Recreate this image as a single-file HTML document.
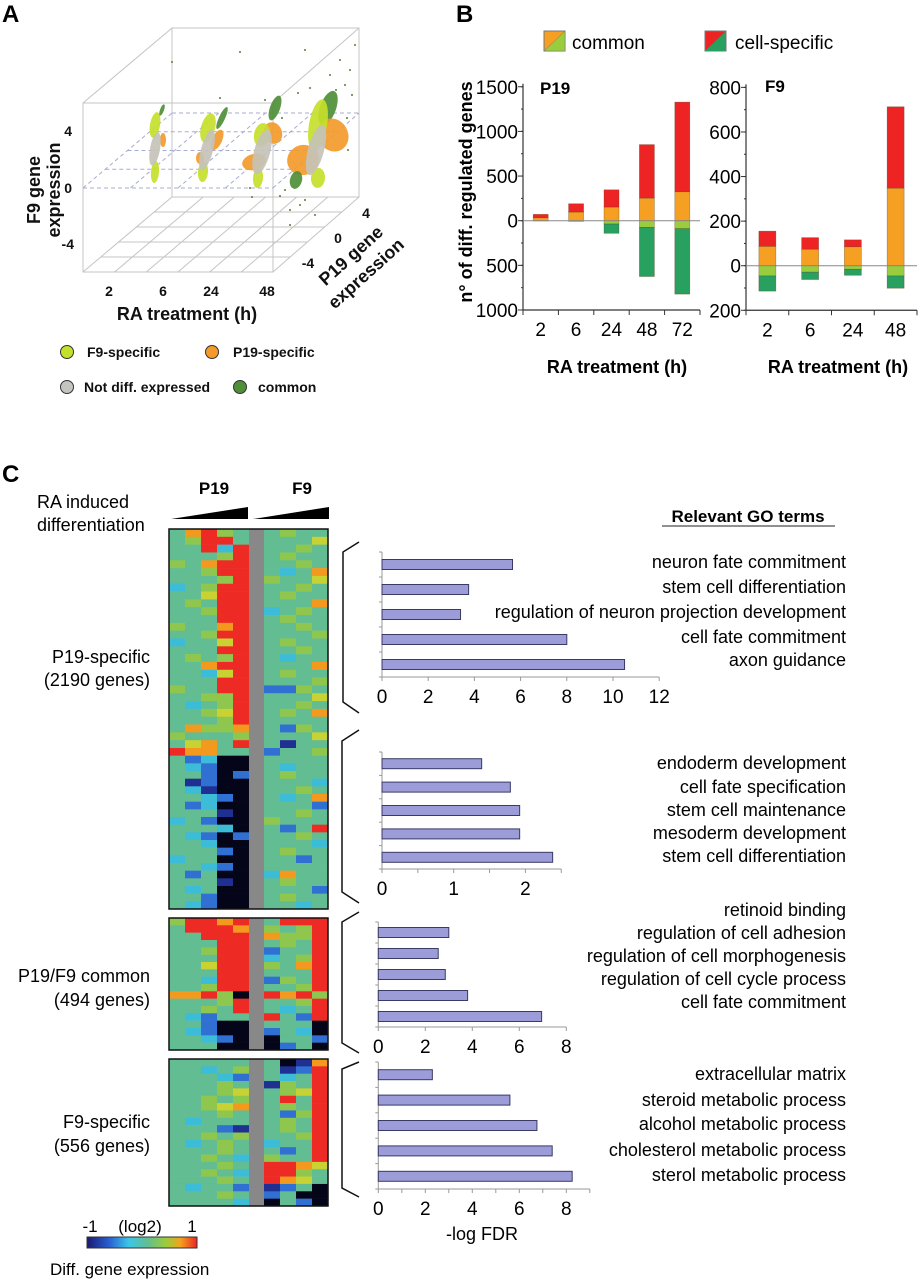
<!DOCTYPE html>
<html><head><meta charset="utf-8">
<style>
html,body{margin:0;padding:0;background:#fff;}
svg{display:block;font-family:"Liberation Sans",Arial,sans-serif;}
</style></head>
<body>
<svg id="fig" width="919" height="1280" viewBox="0 0 919 1280" xmlns="http://www.w3.org/2000/svg">
<text x="2" y="22" font-size="24" font-weight="bold">A</text>
<text x="456" y="22" font-size="24" font-weight="bold">B</text>
<text x="2" y="482" font-size="24" font-weight="bold">C</text>

<g id="panelA" stroke="#c4c4c4" stroke-width="1" fill="none">
  <rect x="83" y="103" width="190" height="169"/>
  <rect x="172" y="28" width="187" height="169"/>
  <line x1="83" y1="103" x2="172" y2="28"/><line x1="273" y1="103" x2="359" y2="28"/>
  <line x1="83" y1="272" x2="172" y2="197"/><line x1="273" y1="272" x2="359" y2="197"/>
  <g id="floorGrid"></g>
  <g id="planeGrid" stroke="#a8acd0" stroke-dasharray="4,3"></g>
</g>
<g id="clouds"></g>
<g font-size="14" font-weight="bold" fill="#111">
  <text x="72" y="136" text-anchor="end">4</text>
  <text x="72" y="193" text-anchor="end">0</text>
  <text x="74" y="249" text-anchor="end">-4</text>
  <text x="109" y="296" text-anchor="middle">2</text>
  <text x="163" y="296" text-anchor="middle">6</text>
  <text x="211" y="296" text-anchor="middle">24</text>
  <text x="267" y="296" text-anchor="middle">48</text>
  <text x="366" y="218" text-anchor="middle">4</text>
  <text x="338" y="243" text-anchor="middle">0</text>
  <text x="308" y="268" text-anchor="middle">-4</text>
</g>
<g font-size="18" font-weight="bold" fill="#111">
  <text transform="translate(40,190) rotate(-90)" text-anchor="middle">F9 gene</text>
  <text transform="translate(60,190) rotate(-90)" text-anchor="middle">expression</text>
  <text x="187" y="320" text-anchor="middle">RA treatment (h)</text>
  <text transform="translate(355,260) rotate(-42)" text-anchor="middle">P19 gene</text>
  <text transform="translate(370,278) rotate(-42)" text-anchor="middle">expression</text>
</g>
<g font-size="14" font-weight="bold" fill="#111" stroke-width="1">
  <circle cx="67" cy="352" r="6.5" fill="#c5e02a" stroke="#333"/>
  <text x="87" y="357">F9-specific</text>
  <circle cx="212" cy="352" r="6.5" fill="#f39a2a" stroke="#333"/>
  <text x="233" y="357">P19-specific</text>
  <circle cx="67" cy="387" r="6.5" fill="#c4c4c0" stroke="#333"/>
  <text x="84" y="392">Not diff. expressed</text>
  <circle cx="240" cy="387" r="6.5" fill="#4f8f3a" stroke="#333"/>
  <text x="258" y="392">common</text>
</g>

<g>
  <rect x="544" y="31" width="21" height="20" fill="#f6a023" stroke="#777"/>
  <polygon points="544,51 565,51 565,31" fill="#9acd3e" stroke="#777" stroke-width="0.5"/>
  <text x="572" y="49" font-size="19">common</text>
  <rect x="705" y="31" width="21" height="20" fill="#ee2424" stroke="#777"/>
  <polygon points="705,51 726,51 726,31" fill="#27a060"/>
  <text x="735" y="49" font-size="19">cell-specific</text>
</g>
<text transform="translate(472,192) rotate(-90)" text-anchor="middle" font-size="18" font-weight="bold">n° of diff. regulated genes</text>
<text x="540" y="94" font-size="17" font-weight="bold">P19</text>
<text x="765" y="92" font-size="17" font-weight="bold">F9</text>
<text x="617" y="373" text-anchor="middle" font-size="18" font-weight="bold">RA treatment (h)</text>
<text x="838" y="373" text-anchor="middle" font-size="18" font-weight="bold">RA treatment (h)</text>
<g id="p19chart"></g>
<g id="f9chart"></g>

<text x="37" y="508" font-size="18">RA induced</text>
<text x="37" y="531" font-size="18">differentiation</text>
<text x="214" y="494" text-anchor="middle" font-size="17" font-weight="bold">P19</text>
<text x="302" y="494" text-anchor="middle" font-size="17" font-weight="bold">F9</text>
<polygon points="171,519 248,507 248,519" fill="#000"/>
<polygon points="253,519 329,507 329,519" fill="#000"/>
<g font-size="18" text-anchor="end">
  <text x="150" y="663">P19-specific</text>
  <text x="150" y="686">(2190 genes)</text>
  <text x="150" y="982">P19/F9 common</text>
  <text x="150" y="1006">(494 genes)</text>
  <text x="150" y="1128">F9-specific</text>
  <text x="150" y="1152">(556 genes)</text>
</g>
<g id="heatmap"></g>
<defs>
  <linearGradient id="cbar" x1="0" x2="1" y1="0" y2="0">
    <stop offset="0" stop-color="#1a1a70"/><stop offset="0.2" stop-color="#2a5fd0"/>
    <stop offset="0.38" stop-color="#3cc6e6"/><stop offset="0.55" stop-color="#62bd93"/>
    <stop offset="0.72" stop-color="#9ccc3a"/><stop offset="0.85" stop-color="#f3a21e"/>
    <stop offset="1" stop-color="#ee2424"/>
  </linearGradient>
</defs>
<rect x="87" y="1237" width="110" height="11" fill="url(#cbar)" stroke="#333"/>
<g font-size="17">
  <text x="90" y="1232" text-anchor="middle">-1</text>
  <text x="140" y="1232" text-anchor="middle">(log2)</text>
  <text x="192" y="1232" text-anchor="middle">1</text>
  <text x="50" y="1275">Diff. gene expression</text>
</g>
<g stroke="#111" stroke-width="1.5" fill="none">
  <polyline points="359,542 343,552 343,702 359,713"/>
  <polyline points="359,730 342,741 342,892 359,903"/>
  <polyline points="359,912 342,922 342,1043 359,1053"/>
  <polyline points="359,1062 342,1069 342,1188 359,1197"/>
</g>
<text x="748" y="522" text-anchor="middle" font-size="17" font-weight="bold">Relevant GO terms</text>
<line x1="662" y1="526" x2="835" y2="526" stroke="#222" stroke-width="1"/>
<g id="gocharts"></g>
<text x="482" y="1240" text-anchor="middle" font-size="18">-log FDR</text>
</svg>
<script>
var NS="http://www.w3.org/2000/svg";
function mk(p,tag,at){var e=document.createElementNS(NS,tag);for(var k in at)e.setAttribute(k,at[k]);p.appendChild(e);return e;}

var p19Times=["2","6","24","48","72"];
var p19CommonUp=[33,97,153,253,324];
var p19SpecificUp=[38,93,193,599,1004];
var p19CommonDown=[3,8,37,74,89];
var p19SpecificDown=[0,0,104,551,733];
var p19TickValues=[1500,1000,500,0,-500,-1000];
var p19TickLabels=["1500","1000","500","0","500","1000"];

var f9Times=["2","6","24","48"];
var f9CommonUp=[87,74,85,348];
var f9SpecificUp=[68,52,31,365];
var f9CommonDown=[46,29,16,46];
var f9SpecificDown=[68,33,27,55];
var f9TickValues=[800,600,400,200,0,-200];
var f9TickLabels=["800","600","400","200","0","200"];

function stackChart(g,o){
  var n=o.times.length, bw=(o.x1-o.x0)/n;
  function y(v){return o.y0-v*o.k;}
  var yb=y(o.min), yt=y(o.max);
  mk(g,"line",{x1:o.x0,y1:yt-3,x2:o.x0,y2:yb,stroke:"#333","stroke-width":1.2});
  mk(g,"line",{x1:o.x0,y1:yb,x2:o.x1,y2:yb,stroke:"#333","stroke-width":1.2});
  for(var t=0;t<o.tickVals.length;t++){
    var ty=y(o.tickVals[t]);
    mk(g,"line",{x1:o.x0-5,y1:ty,x2:o.x0,y2:ty,stroke:"#333"});
    var tx=mk(g,"text",{x:o.x0-5,y:ty+7,"text-anchor":"end","font-size":19});
    tx.textContent=o.tickLabels[t];
    
    
  }
  for(var m=o.min;m<=o.max;m+=o.minor){mk(g,"line",{x1:o.x0-2,y1:y(m),x2:o.x0,y2:y(m),stroke:"#333"});}
  for(var i=0;i<=n;i++){mk(g,"line",{x1:o.x0+bw*i,y1:yb,x2:o.x0+bw*i,y2:yb+5,stroke:"#333"});}
  for(i=0;i<n;i++){
    var cx=o.x0+bw*(i+0.5), w=o.barW;
    var cu=o.cu[i], su=o.su[i], cd=o.cd[i], sd=o.sd[i];
    var segs=[[0,cu,"#f6a023","common-up"],[cu,cu+su,"#ee2424","specific-up"],[-cd,0,"#9acd3e","common-down"],[-(cd+sd),-cd,"#27a060","specific-down"]];
    for(var s=0;s<4;s++){
      var a=segs[s]; if(a[1]-a[0]<=0)continue;
      var r=mk(g,"rect",{x:cx-w/2,y:y(a[1]),width:w,height:(a[1]-a[0])*o.k,fill:a[2],stroke:"rgba(90,60,30,0.5)","stroke-width":0.6});
      
      
    }
    var lb=mk(g,"text",{x:cx,y:yb+26,"text-anchor":"middle","font-size":19});
    lb.textContent=o.times[i];
    
    
  }
  mk(g,"line",{x1:o.x0,y1:o.y0,x2:o.x1,y2:o.y0,stroke:"#888","stroke-width":1});
}
stackChart(document.getElementById("p19chart"),{times:p19Times,cu:p19CommonUp,su:p19SpecificUp,cd:p19CommonDown,sd:p19SpecificDown,
  x0:523,x1:700,y0:220.7,k:0.0893,min:-1000,max:1500,minor:250,barW:15,tickVals:p19TickValues,tickLabels:p19TickLabels});
stackChart(document.getElementById("f9chart"),{times:f9Times,cu:f9CommonUp,su:f9SpecificUp,cd:f9CommonDown,sd:f9SpecificDown,
  x0:746,x1:917,y0:265.7,k:0.2229,min:-200,max:800,minor:100,barW:17,tickVals:f9TickValues,tickLabels:f9TickLabels});

var go1Terms=["neuron fate commitment","stem cell differentiation","regulation of neuron projection development","cell fate commitment","axon guidance"];
var go1Values=[5.65,3.75,3.4,8.0,10.5];
var go1Ticks=[0,2,4,6,8,10,12];
var go2Terms=["endoderm development","cell fate specification","stem cell maintenance","mesoderm development","stem cell differentiation"];
var go2Values=[1.39,1.79,1.92,1.92,2.38];
var go2Ticks=[0,1,2];
var go3Terms=["retinoid binding","regulation of cell adhesion","regulation of cell morphogenesis","regulation of cell cycle process","cell fate commitment"];
var go3Values=[3.0,2.55,2.85,3.8,6.95];
var go3Ticks=[0,2,4,6,8];
var go4Terms=["extracellular matrix","steroid metabolic process","alcohol metabolic process","cholesterol metabolic process","sterol metabolic process"];
var go4Values=[2.3,5.6,6.75,7.4,8.25];
var go4Ticks=[0,2,4,6,8];

function goChart(g,o){
  function x(v){return o.x0+v*o.k;}
  var n=o.vals.length, step=(o.yAxis-o.yTop)/n;
  mk(g,"line",{x1:o.x0,y1:o.yTop,x2:o.x0,y2:o.yAxis,stroke:"#999"});
  mk(g,"line",{x1:o.x0,y1:o.yAxis,x2:x(o.max),y2:o.yAxis,stroke:"#999"});
  for(var i=0;i<=n;i++)mk(g,"line",{x1:o.x0-3,y1:o.yTop+step*i,x2:o.x0,y2:o.yTop+step*i,stroke:"#999"});
  for(var v=0;v<=o.max+1e-9;v+=o.minor)mk(g,"line",{x1:x(v),y1:o.yAxis,x2:x(v),y2:o.yAxis+4,stroke:"#999"});
  for(var t=0;t<o.ticks.length;t++){
    var tl=mk(g,"text",{x:x(o.ticks[t]),y:o.yAxis+26,"text-anchor":"middle","font-size":19});
    tl.textContent=String(o.ticks[t]);
    
    
  }
  for(i=0;i<n;i++){
    var cy=o.yTop+step*(i+0.5);
    var r=mk(g,"rect",{x:o.x0,y:cy-5,width:o.vals[i]*o.k,height:10,fill:"#9c9cd8",stroke:"#3a3a66","stroke-width":1});
    
    
    var tt=mk(g,"text",{x:846,y:o.textY[i]+6,"text-anchor":"end","font-size":18});
    tt.textContent=o.terms[i];
    
    
  }
}
var G=document.getElementById("gocharts");
goChart(G,{terms:go1Terms,vals:go1Values,ticks:go1Ticks,x0:382,k:23.1,max:12,minor:2,yTop:552,yAxis:677,textY:[562,587,612,637,660]});
goChart(G,{terms:go2Terms,vals:go2Values,ticks:go2Ticks,x0:382,k:71.7,max:2.5,minor:0.5,yTop:752,yAxis:869,textY:[763,787,810,833,856]});
goChart(G,{terms:go3Terms,vals:go3Values,ticks:go3Ticks,x0:378.3,k:23.5,max:8,minor:2,yTop:922,yAxis:1027,textY:[910,933,956,979,1002]});
goChart(G,{terms:go4Terms,vals:go4Values,ticks:go4Ticks,x0:378.3,k:23.5,max:9,minor:1,yTop:1062,yAxis:1189,textY:[1074,1100,1124,1150,1175]});

var heatColors={K:"#05051a",B:"#1f2f92",b:"#2f70d2",c:"#3dbcd8",t:"#62bd93",g:"#8fc64e",y:"#c8d233",o:"#f39a1e",R:"#ee2a24"};
var block1Up=["toRgttgtt","tgRRtttty","ttRcRttgt","tttgRtgtt","gtoRRttgt","ttgRRtcto","tttgRgtty","ctgRRttgt","ttyRRtgtt","tgtRRttto","ttgRRctgt","tttRRtgtt","gttoRttgt","ttgRRtttg","cttyRtgtt","tttRRttgt","tgtgRtctt","ttoRRttto","ttcyRtgtt","tttRRtttg","gttRRbbgt","ttggRttty","tctgRttgt","ttgyRtgto","tttgRtttt","toggotbgt","gtttgttty","tyotRtBtt"];
var block1Down=["Roottbttg","tbcKKtttt","tcbKKtctt","ttbKbtgtt","tBbKKtttc","tcBKKttgt","ttcbKtcto","tbcKKtttb","tttBKttgt","ctbKKgttt","tttcKtbtR","tcbKbttgt","ttcKKtttc","tttbKtgtt","cttKKttbt","ttcbKtttt","tbtKKcott","tttBKtgtt","tctKKtttb","ttbKKtgtt","tcbKKttct"];
var block2=["gRRoRtRRR","tRRRogtgR","ttRRRoggR","tttRRtgtR","ttgRRbttR","tttRRctgR","ttyRRgtoR","tttRRtttR","ttcRRbgtR","ttgRRttgR","ooRgKRoRg","tttgRttgR","ttgtRtctR","tcbttRtbR","ttbKKtttK","tcbKKbtcK","ttcbKKttb","tttKKKbtK"];
var block3=["ttttttKBo","ttctgtBbR","tttcbtctR","tttgtBgtR","tttgytgyR","ttgtgtRtR","ttgyotgtR","tttgttbgR","tcttttgtR","tttbBtgtR","ttgtgttgR","tctgtcttR","tttgttbtR","ttgtcgttR","tttgtRRoy","ttgtcRRgt","tttgtRoyt","tcttbBbtK","tttgtbtKK","ttttcKtbK"];

var H=document.getElementById("heatmap");
var colX=[169,185,201,217,233,264,280,296,312], colW=16;
function drawRows(rows,y0,y1){
  var h=(y1-y0)/rows.length;
  for(var r=0;r<rows.length;r++){
    for(var c=0;c<9;c++){
      var cell=mk(H,"rect",{x:colX[c],y:(y0+r*h).toFixed(2),width:colW+0.3,height:(h+0.3).toFixed(2),fill:heatColors[rows[r][c]]});
      
      
    }
  }
}
function blockFrame(y0,y1,name){
  var g=mk(H,"rect",{x:249,y:y0,width:15,height:y1-y0,fill:"#888"});
  
  
  var f=mk(H,"rect",{x:169,y:y0,width:159,height:y1-y0,fill:"none",stroke:"#111","stroke-width":1.5});
  
  
}
drawRows(block1Up,529,748);
drawRows(block1Down,748,909);
blockFrame(529,909,'heatmap-block-p19-specific');
drawRows(block2,918,1050);
blockFrame(918,1050,'heatmap-block-common');
drawRows(block3,1059,1206);
blockFrame(1059,1206,'heatmap-block-f9-specific');

var FG=document.getElementById("floorGrid");
for(var i=1;i<5;i++){var f=i/5;mk(FG,"line",{x1:83+89*f,y1:272-75*f,x2:273+86*f,y2:272-75*f});}
for(i=1;i<6;i++){var fx=i/6;mk(FG,"line",{x1:83+190*fx,y1:272,x2:172+187*fx,y2:197});}
var PG=document.getElementById("planeGrid");
for(i=0;i<5;i++){var f2=i/4;mk(PG,"line",{x1:83+89*f2,y1:188-75*f2,x2:273+86*f2,y2:188-75*f2});}
for(i=0;i<=4;i++){var fx2=i/4;mk(PG,"line",{x1:83+190*fx2,y1:188,x2:172+187*fx2,y2:113});}

/* Point clouds: [cx, cy, rx, ry, rotation, colour key] per time-point cluster */
var CL=document.getElementById("clouds");
var cols={lime:"#c5e02a",orange:"#f39a2a",gray:"#c4c2b8",dg:"#4f8f3a"};
var cloudShapes=[
 [163,140,3,7,0,"orange"],[155,125,5,13,10,"lime"],[155,172,4,11,5,"lime"],[155,149,5,17,10,"gray"],[162,110,2,6,20,"dg"],
 [222,118,3,12,25,"dg"],[217,140,5,11,25,"orange"],[200,158,4,6,0,"orange"],[208,128,7,15,15,"lime"],[203,172,5,10,5,"lime"],[207,150,6,21,15,"gray"],
 [275,108,5,13,20,"dg"],[273,133,9,11,-20,"orange"],[254,162,12,8,-15,"orange"],[262,135,8,12,10,"lime"],[258,178,5,10,5,"lime"],[262,152,8,23,15,"gray"],
 [328,108,8,18,20,"dg"],[333,135,15,17,-30,"orange"],[303,160,16,15,-20,"orange"],[318,125,9,26,10,"lime"],[318,178,7,10,5,"lime"],[296,180,6,9,15,"dg"],[316,150,8,26,15,"gray"]
];
for(i=0;i<cloudShapes.length;i++){
  var c=cloudShapes[i];
  var e=mk(CL,"ellipse",{cx:c[0],cy:c[1],rx:c[2],ry:c[3],fill:cols[c[5]],opacity:0.92,transform:"rotate("+c[4]+" "+c[0]+" "+c[1]+")"});
  
  
}
var dots=[[172,62],[240,52],[305,50],[355,45],[345,85],[298,93],[330,75],[350,70],[265,100],[220,98],[285,190],[300,205],[348,150],[290,225],[252,197],[315,215],[340,60],[352,95],[336,90],[310,88],[282,118],[347,118],[250,188],[280,196],[305,200],[290,210]];
for(i=0;i<dots.length;i++){var d=mk(CL,"circle",{cx:dots[i][0],cy:dots[i][1],r:1,fill:"#4f7f3a"});}
</script>
</body></html>
